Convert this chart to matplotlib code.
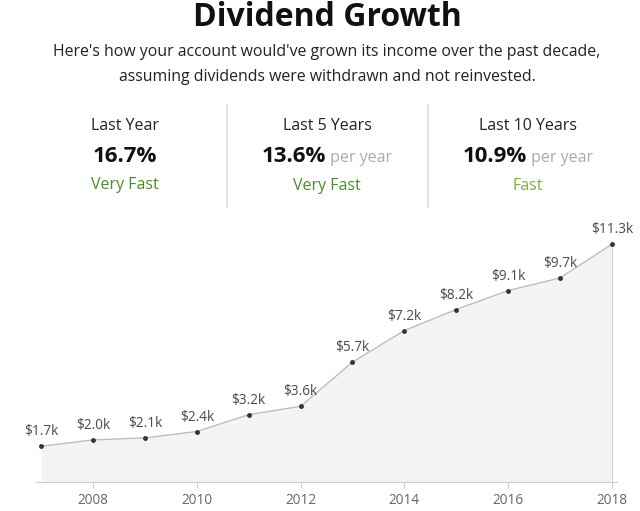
import matplotlib
matplotlib.use('Agg')
import matplotlib.pyplot as plt

plt.rcParams['font.family'] = ['Open Sans', 'DejaVu Sans']

years = [2007, 2008, 2009, 2010, 2011, 2012, 2013, 2014, 2015, 2016, 2017, 2018]
income = [1.7, 2.0, 2.1, 2.4, 3.2, 3.6, 5.7, 7.2, 8.2, 9.1, 9.7, 11.3]
tick_years = [2008, 2010, 2012, 2014, 2016, 2018]

periods = ['Last Year', 'Last 5 Years', 'Last 10 Years']
rates = ['16.7%', '13.6%', '10.9%']
suffix = ['', 'per year', 'per year']
speeds = ['Very Fast', 'Very Fast', 'Fast']
speed_colors = ['#4b8b2f', '#4b8b2f', '#76b043']

W, H = 640, 511
fig = plt.figure(figsize=(W / 100, H / 100), dpi=100)


def fx(px):
    return px / W


def fy(py):
    return 1 - py / H


fig.text(0.511, fy(17), 'Dividend Growth', ha='center', va='center',
         fontsize=23, fontweight='bold', color='#111111')
fig.text(0.511, fy(52), "Here's how your account would've grown its income over the past decade,",
         ha='center', va='center', fontsize=11.4, color='#222222')
fig.text(0.511, fy(77), 'assuming dividends were withdrawn and not reinvested.',
         ha='center', va='center', fontsize=11.4, color='#222222')

# stat columns
centers = [125, 327, 528]
renderer = fig.canvas.get_renderer()
for i, cx in enumerate(centers):
    fig.text(fx(cx), fy(126), periods[i], ha='center', va='center',
             fontsize=11.5, color='#222222')
    if suffix[i]:
        t1 = fig.text(0, 0, rates[i], fontsize=16, fontweight='bold', color='#111111')
        t2 = fig.text(0, 0, ' ' + suffix[i], fontsize=11.5, color='#aaaaaa')
        w1 = t1.get_window_extent(renderer).width
        w2 = t2.get_window_extent(renderer).width
        x0 = cx - (w1 + w2) / 2
        t1.set_position((fx(x0), fy(157)))
        t1.set_va('center')
        t2.set_position((fx(x0 + w1), fy(158)))
        t2.set_va('center')
    else:
        fig.text(fx(cx), fy(156), rates[i], ha='center', va='center',
                 fontsize=16, fontweight='bold', color='#111111')
    fig.text(fx(cx), fy(186 if i else 185), speeds[i], ha='center', va='center',
             fontsize=11.5, color=speed_colors[i])

for dx in [227, 428]:
    fig.add_artist(plt.Line2D([fx(dx), fx(dx)], [fy(105), fy(207)],
                              color='#dddddd', lw=1.2))

# chart
ax = fig.add_axes([fx(36), fy(482), fx(617) - fx(36), fy(230) - fy(482)])
ax.fill_between(years, income, 0, color='#f4f4f4', lw=0)
ax.plot(years, income, color='#bdbdbd', lw=1)
ax.plot([years[-1], years[-1]], [0, income[-1]], color='#d5d5d5', lw=0.8)
ax.plot(years, income, 'o', color='#333333', ms=2.5)
for x, v in zip(years, income):
    ax.annotate(f'${v:.1f}k', (x, v), xytext=(0, 5), textcoords='offset points',
                ha='center', va='bottom', fontsize=9.8, color='#4a4a4a')

ax.set_xlim(2006.9, 2018.1)
ax.set_ylim(0, 11.98)
ax.set_xticks(tick_years)
ax.set_xticklabels([str(t) for t in tick_years])
ax.set_yticks([])
for s in ['top', 'right', 'left']:
    ax.spines[s].set_visible(False)
ax.spines['bottom'].set_color('#cccccc')
ax.tick_params(axis='x', colors='#cccccc', length=4, labelcolor='#666666',
               labelsize=9.8, pad=4)
ax.patch.set_alpha(0)

fig.savefig('out.png', dpi=100)
